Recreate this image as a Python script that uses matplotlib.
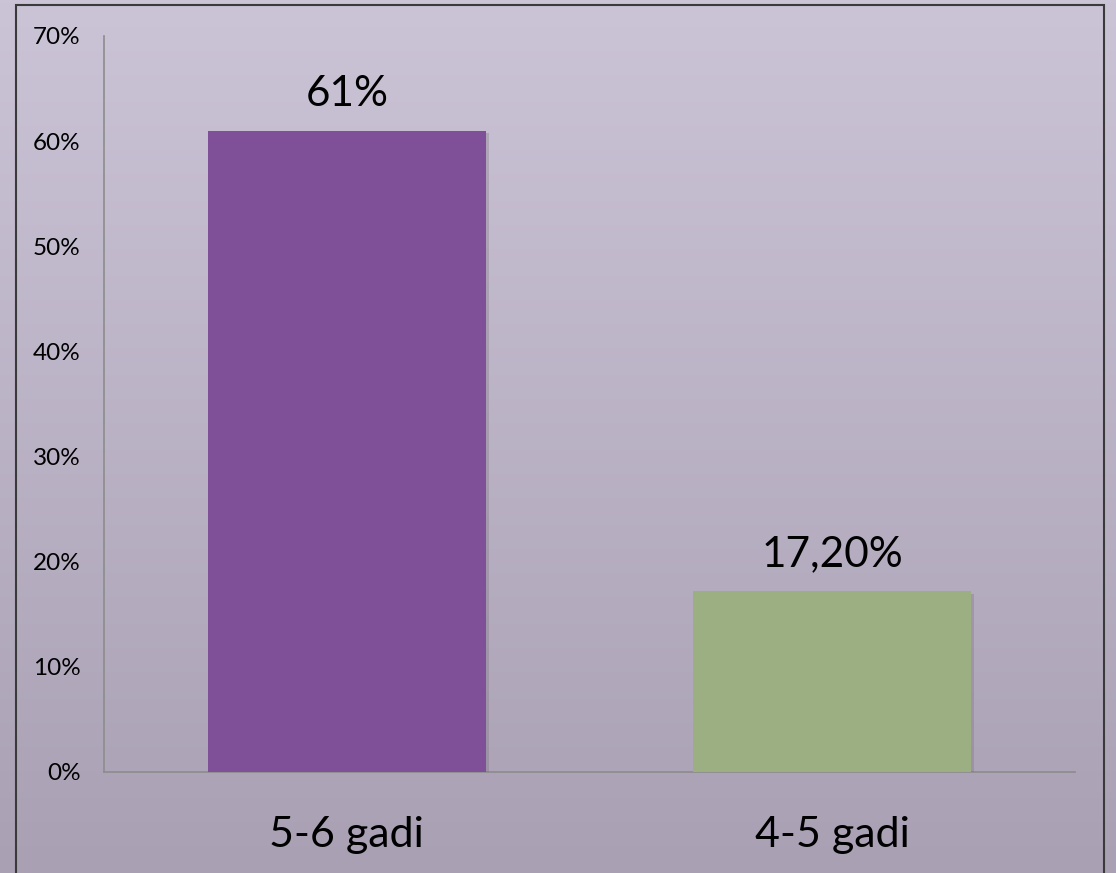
import matplotlib
matplotlib.use("Agg")
import matplotlib.pyplot as plt
import matplotlib.patheffects as pe
from matplotlib.patches import Rectangle
import numpy as np

# data
categories = ["5-6 gadi", "4-5 gadi"]
values = [61.0, 17.2]
value_labels = ["61%", "17,20%"]
bar_colors = ["#7f4f98", "#9caf82"]
yticks = [0, 10, 20, 30, 40, 50, 60, 70]

plt.rcParams['font.family'] = ['Lato', 'DejaVu Sans']

W, H = 1116, 873
fig = plt.figure(figsize=(W / 100, H / 100), dpi=100)

# background gradient over the whole figure
bg = fig.add_axes([0, 0, 1, 1], zorder=-10)
grad = np.linspace(0, 1, 256).reshape(-1, 1)
top = np.array([0xcb, 0xc3, 0xd6]) / 255
bot = np.array([0xa9, 0xa0, 0xb4]) / 255
img = top + (bot - top) * grad[:, :, None]
bg.imshow(img, aspect='auto', extent=[0, 1, 0, 1], origin='upper')
bg.add_patch(Rectangle((16 / W, -0.05), (1104 - 16) / W, 1 - 5 / H + 0.05,
                       fill=False, edgecolor="#3a3a3a", linewidth=1.5,
                       transform=bg.transAxes))
bg.set_xlim(0, 1)
bg.set_ylim(0, 1)
bg.axis('off')

ax = fig.add_axes([104 / W, 1 - 772 / H, (1075 - 104) / W, (772 - 36) / H])
ax.patch.set_alpha(0)

x = np.arange(len(categories))
bars = ax.bar(x, values, width=0.573, color=bar_colors, zorder=3)
for b in bars:
    b.set_path_effects([pe.SimplePatchShadow(offset=(2, -2), shadow_rgbFace='#6a6070',
                                             alpha=0.25), pe.Normal()])

for xi, v, lab in zip(x, values, value_labels):
    ax.annotate(lab, (xi, v), xytext=(0, 18), textcoords='offset points',
                ha='center', va='baseline', fontsize=30.5, color='black')

ax.set_xlim(-0.5, 1.5)
ax.set_ylim(0, 70)
ax.set_yticks(yticks)
ax.set_yticklabels([f"{t}%" for t in yticks], fontsize=17.5)
ax.set_xticks(x)
ax.set_xticklabels(categories, fontsize=31)
ax.tick_params(axis='y', length=0, pad=17)
ax.tick_params(axis='x', length=0, pad=32)

for s in ['top', 'right']:
    ax.spines[s].set_visible(False)
for s in ['left', 'bottom']:
    ax.spines[s].set_color('#8c8c8c')
    ax.spines[s].set_linewidth(1.2)

fig.savefig("out.png", dpi=100)
